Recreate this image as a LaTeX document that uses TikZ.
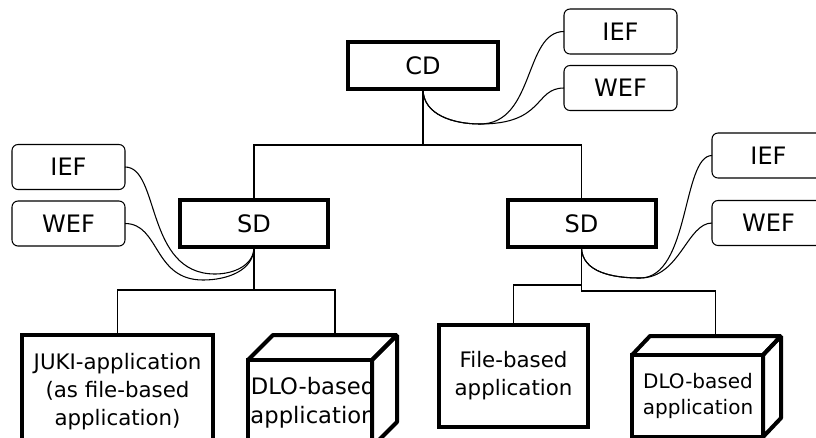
\documentclass[tikz,border=0pt]{standalone}
\usepackage{fontspec}
\setmainfont{DejaVu Sans}
\usepackage{tikz}
\usetikzlibrary{positioning}

\begin{document}
\begin{tikzpicture}[x=0.75pt, y=-0.75pt, line width=0.8pt,
  dom node/.style={draw, line width=3pt, minimum height=35.25pt, inner sep=0pt, outer sep=0pt, font=\fontsize{18}{22}\selectfont},
  ef node/.style={draw, rounded corners=4.5pt, line width=0.8pt, minimum width=84.75pt, minimum height=33.75pt, inner sep=0pt, outer sep=0pt, font=\fontsize{18}{22}\selectfont},
  app node/.style={draw, line width=3pt, inner sep=0pt, outer sep=0pt, align=center, font=\fontsize{16}{21}\selectfont},
  app line/.style={line width=3pt, line join=bevel},
  txt/.style={inner sep=0pt, align=center}]
\useasboundingbox (0,0) rectangle (816,437);
\clip (0,0) rectangle (816,437);
% domains
\node[dom node, minimum width=112.5pt] (cd) at (423,65.5) {CD};
\node[dom node, minimum width=111pt] (sd1) at (254,223.5) {SD};
\node[dom node, minimum width=111pt] (sd2) at (581.5,223.5) {SD};
% filters
\node[ef node] (ief0) at (620.5,31.5) {IEF};
\node[ef node] (wef0) at (620.5,88) {WEF};
\node[ef node] (ief1) at (68.5,167) {IEF};
\node[ef node] (wef1) at (68.5,223.5) {WEF};
\node[ef node] (ief2) at (768.5,155.5) {IEF};
\node[ef node] (wef2) at (768.5,223) {WEF};
% applications
\node[app node, minimum width=143.25pt, minimum height=85.5pt] (juki) at (117.5,392) {JUKI-application\\(as file-based\\application)};
\node[app node, minimum width=111.75pt, minimum height=76.5pt] (file) at (513.5,376) {File-based\\application};
\node[app node, minimum width=93pt, minimum height=65.25pt] (dlo1) at (310,403.5) {};
\node[app node, minimum width=98.25pt, minimum height=61.5pt] (dlo2) at (697.5,396) {};
\path (dlo1.north) ++(25,-25) coordinate (top1);
\path (dlo2.north) ++(18,-19) coordinate (top2);
% tree
\path (cd.south) ++(0,56) coordinate (j0);
\path (sd1.south) ++(0,43) coordinate (j1);
\path (sd2.south) ++(0,44) coordinate (j2);
\path (sd2.south) ++(0,38) coordinate (j3);
\draw (cd.south) -- (j0) -| (sd1.north) (j0) -| (sd2.north);
\draw (sd1.south) -- (j1) -| (juki.north) (j1) -| (top1);
\draw (sd2.south) -- (j2) -| (top2);
\draw (file.north) |- (j3);
% links to filters
\coordinate (c0) at (480,124);
\coordinate (c1) at (215,274);
\coordinate (c2) at (203,280);
\coordinate (c3) at (640,278);
\draw (cd.south) to[out=-90,in=180] (c0) .. controls +(55,0) and +(-40,0) .. (ief0.west);
\draw (cd.south) to[out=-90,in=180] (c0) .. controls +(65,0) and +(-30,0) .. (wef0.west);
\draw (ief1.east) .. controls +(35,0) and +(-70,0) .. (c1) to[out=0,in=-90] (sd1.south);
\draw (wef1.east) .. controls +(35,0) and +(-50,0) .. (c2) to[out=0,in=-90] (sd1.south);
\draw (sd2.south) to[out=-90,in=180] (c3) .. controls +(50,0) and +(-30,0) .. (ief2.west);
\draw (sd2.south) to[out=-90,in=180] (c3) .. controls +(40,0) and +(-25,0) .. (wef2.west);
% boxes in 3d
\node[txt, font=\fontsize{17}{22}\selectfont] (t1) at (313,403) {DLO-based\\application};
\node[txt, font=\fontsize{15}{20}\selectfont] (t2) at (698,396) {DLO-based\\application};
\filldraw[app line, fill=white] (dlo1.north east) -- ++(25,-25) -- ++(0,87) -- (dlo1.south east) -- cycle;
\draw[app line] (dlo1.north west) -- ++(25,-25) -- ++(124,0) -- (dlo1.north east);
\filldraw[app line, fill=white] (dlo2.north east) -- ++(18,-19) -- ++(0,82) -- (dlo2.south east) -- cycle;
\draw[app line] (dlo2.north west) -- ++(18,-19) -- ++(131,0) -- (dlo2.north east);
\end{tikzpicture}
\end{document}
